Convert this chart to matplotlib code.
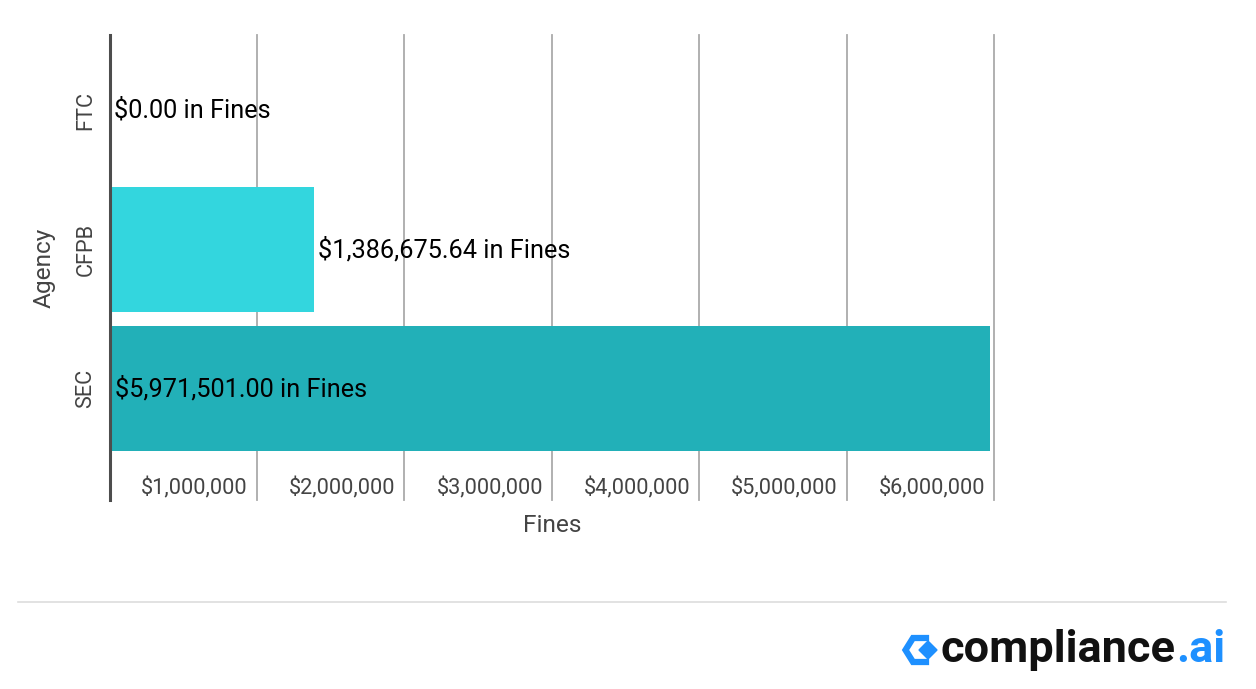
import matplotlib.pyplot as plt
import matplotlib.transforms as mtransforms
from matplotlib.patches import Polygon
from matplotlib.lines import Line2D
from matplotlib.ticker import FuncFormatter

plt.rcParams['font.family'] = ['Roboto', 'DejaVu Sans']

agencies = ['SEC', 'CFPB', 'FTC']
fines = [5971501.00, 1386675.64, 0.00]
bar_colors = ['#22b0b8', '#33d6de', '#33d6de']
xticks = [1e6, 2e6, 3e6, 4e6, 5e6, 6e6]

fig = plt.figure(figsize=(12.56, 6.89), dpi=100)
ax = fig.add_axes([109.5 / 1256, 189 / 689, 885 / 1256, 465 / 689])

pos = list(range(len(agencies)))
ax.barh(pos, fines, height=0.9, color=bar_colors, zorder=2)

ax.set_xlim(0, 6.0e6)
ax.set_ylim(-0.80, 2.54)

ax.set_xticks(xticks)
ax.xaxis.set_major_formatter(FuncFormatter(lambda v, p: '${:,.0f}'.format(v)))
ax.tick_params(axis='x', length=0, pad=-16, labelsize=15.7, labelcolor='#444444')
offset = mtransforms.ScaledTranslation(-9 / 100, 0, fig.dpi_scale_trans)
for lab in ax.get_xticklabels():
    lab.set_horizontalalignment('right')
    lab.set_transform(lab.get_transform() + offset)
ax.grid(axis='x', color='#aaaaaa', linewidth=1.3, zorder=1)
for gl in ax.get_xgridlines():
    gl.set_clip_on(False)

ax.set_yticks(pos)
ax.set_yticklabels(agencies, rotation=90, va='center')
ax.tick_params(axis='y', length=0, pad=9.5, labelsize=15.7, labelcolor='#444444')

for s in ['top', 'right', 'bottom']:
    ax.spines[s].set_visible(False)
ax.spines['left'].set_color('#4d4d4d')
ax.spines['left'].set_linewidth(2.2)
ax.spines['left'].set_zorder(3)

ax.set_xlabel('Fines', fontsize=17.6, color='#444444', labelpad=10)
ax.set_ylabel('Agency', fontsize=17.6, color='#444444', labelpad=14)

xmax = max(fines)
for p, v in zip(pos, fines):
    txt = '${:,.2f} in Fines'.format(v)
    if v > 0.8 * xmax:
        ax.annotate(txt, (0, p), xytext=(4, 0), textcoords='offset points',
                    va='center', ha='left', fontsize=18.2,
                    color='black', zorder=4)
    else:
        ax.annotate(txt, (v, p), xytext=(3, 0), textcoords='offset points',
                    va='center', ha='left', fontsize=18.2,
                    color='black', zorder=4)

# footer separator
fig.add_artist(Line2D([18 / 1256, 1226 / 1256], [1 - 602 / 689, 1 - 602 / 689],
                      color='#dddddd', linewidth=1.2))

# logo
def fx(x):
    return x / 1256


def fy(y):
    return 1 - y / 689


fig.add_artist(Line2D([fx(926), fx(913), fx(905.5), fx(913), fx(926)],
                      [fy(638), fy(638), fy(650), fy(662), fy(662)],
                      color='#1e90ff', linewidth=4.5, solid_joinstyle='miter'))
fig.add_artist(Polygon([(fx(919), fy(650)), (fx(928), fy(641)), (fx(937), fy(650)),
                        (fx(928), fy(659))], closed=True, color='#1e90ff'))
t1 = fig.text(fx(941), fy(650), 'compliance', fontsize=32.5, fontweight='bold',
              color='#111111', va='center', ha='left')
fig.canvas.draw()
bb = t1.get_window_extent()
fig.text(bb.x1 / 1256, fy(650), '.ai', fontsize=32.5, fontweight='bold',
         color='#1e90ff', va='center', ha='left')

fig.savefig('out.png', dpi=100)
